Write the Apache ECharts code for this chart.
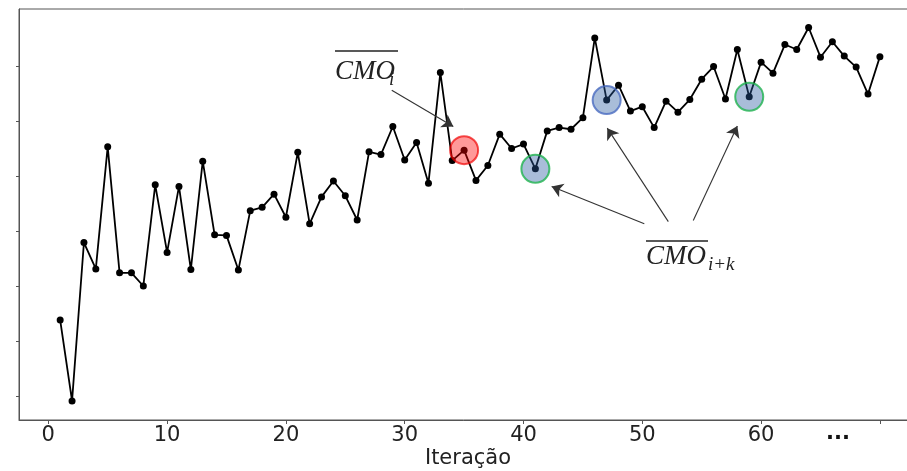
<!DOCTYPE html>
<html>
<head>
    <meta charset="utf-8">
    <title>CMO por iteração</title>
    <script src="https://cdn.jsdelivr.net/npm/echarts@6/dist/echarts.min.js"></script>
</head>
<body style="margin:0;background:#fff;">
<div id="main" style="width:907px;height:471px;"></div>

<script type="text/javascript">
    // iterações 1..70
    var iteracoes = [];
    for (var n = 1; n <= 70; n++) iteracoes.push(n);

    // valores (unidade arbitrária, sem rótulos no eixo y)
    var cmo = [1.38, -0.09, 2.79, 2.31, 4.53, 2.24, 2.24, 2.00, 3.84, 2.61,
               3.81, 2.30, 4.27, 2.93, 2.92, 2.29, 3.37, 3.43, 3.67, 3.25,
               4.43, 3.13, 3.62, 3.91, 3.64, 3.20, 4.44, 4.39, 4.90, 4.29,
               4.61, 3.87, 5.88, 4.28, 4.47, 3.92, 4.19, 4.76, 4.50, 4.58,
               4.13, 4.82, 4.88, 4.85, 5.06, 6.51, 5.38, 5.65, 5.18, 5.26,
               4.88, 5.36, 5.16, 5.39, 5.76, 5.99, 5.40, 6.30, 5.44, 6.07,
               5.87, 6.39, 6.30, 6.70, 6.16, 6.44, 6.18, 5.98, 5.49, 6.17];

    var xTicks = [0, 10, 20, 30, 40, 50, 60, 70];
    var xLabels = [0, 10, 20, 30, 40, 50, 60];
    var yTicks = [0, 1, 2, 3, 4, 5, 6];

    // ponto atual e pontos futuros destacados
    var atual = 35;
    var futuros = [41, 47, 59];
    var bordaFuturos = ['#1fb34f', '#4a6cc0', '#1fb34f'];

    // setas: [origem, destino] em coordenadas dos dados
    var setas = [
        [[28.91, 5.56], [34.09, 4.90]],
        [[50.17, 3.13], [42.37, 3.81]],
        [[52.19, 3.17], [47.05, 4.87]],
        [[54.29, 3.19], [58.00, 4.91]]
    ];

    var linha = iteracoes.map(function (it, i) { return [it, cmo[i]]; });

    var destaques = [{
        value: [atual, cmo[atual - 1]],
        itemStyle: { color: 'rgba(255,0,0,0.5)', borderColor: 'rgba(240,0,0,0.85)', borderWidth: 2 }
    }];
    futuros.forEach(function (it, k) {
        destaques.push({
            value: [it, cmo[it - 1]],
            itemStyle: { color: 'rgba(40,90,160,0.5)', borderColor: bordaFuturos[k], borderWidth: 2 }
        });
    });

    var myChart = echarts.init(document.getElementById('main'));
    var option = {
        animation: false,
        backgroundColor: '#fff',
        grid: {
            left: 19, top: 9, width: 920, bottom: 51,
            outerBoundsMode: 'none',
            containLabel: false,
            show: true, borderColor: '#555', borderWidth: 1
        },
        xAxis: {
            type: 'value',
            min: -2.466,
            max: (939 - 48.3) / 11.88,
            name: 'Iteração',
            nameLocation: 'start',
            nameGap: 0,
            nameTextStyle: {
                fontFamily: 'DejaVu Sans', fontSize: 21, color: '#222',
                align: 'center', verticalAlign: 'top', padding: [28, 0, 0, 900]
            },
            axisLine: { show: true, onZero: false, lineStyle: { color: '#555', width: 1 } },
            axisTick: { show: true, customValues: xTicks, length: 4, lineStyle: { color: '#555' } },
            axisLabel: { customValues: xLabels, margin: 5, fontFamily: 'DejaVu Sans', fontSize: 21, color: '#222' },
            splitLine: { show: false }
        },
        yAxis: {
            type: 'value',
            min: -0.436,
            max: 7.036,
            axisLine: { show: true, onZero: false, lineStyle: { color: '#555', width: 1 } },
            axisTick: { show: true, customValues: yTicks, length: 3, lineStyle: { color: '#555' } },
            axisLabel: { show: false },
            splitLine: { show: false }
        },
        series: [
            {
                type: 'line',
                data: linha,
                symbol: 'circle',
                symbolSize: 7,
                itemStyle: { color: '#000' },
                lineStyle: { color: '#000', width: 1.8 },
                z: 2,
                markLine: {
                    silent: true,
                    symbol: ['none', 'arrow'],
                    symbolSize: 11,
                    label: { show: false },
                    lineStyle: { color: '#333', width: 1.1, type: 'solid' },
                    data: setas.map(function (s) {
                        return [{ coord: s[0] }, { coord: s[1] }];
                    })
                }
            },
            {
                type: 'scatter',
                data: destaques,
                symbolSize: 28,
                z: 3,
                silent: true
            }
        ],
        graphic: [
            // CMO_i
            { type: 'line', shape: { x1: 335, y1: 51, x2: 398, y2: 51 }, style: { stroke: '#222', lineWidth: 1.5 } },
            { type: 'text', style: { x: 335, y: 72, text: 'CMO', font: 'italic 27px "Liberation Serif"', fill: '#222', verticalAlign: 'middle' } },
            { type: 'text', style: { x: 389, y: 80, text: 'i', font: 'italic 19px "Liberation Serif"', fill: '#222', verticalAlign: 'middle' } },
            // CMO_{i+k}
            { type: 'line', shape: { x1: 646, y1: 241, x2: 708, y2: 241 }, style: { stroke: '#222', lineWidth: 1.5 } },
            { type: 'text', style: { x: 646, y: 257, text: 'CMO', font: 'italic 27px "Liberation Serif"', fill: '#222', verticalAlign: 'middle' } },
            { type: 'text', style: { x: 708, y: 265, text: 'i+k', font: 'italic 19px "Liberation Serif"', fill: '#222', verticalAlign: 'middle' } },
            // reticências no lugar do rótulo 70
            { type: 'text', style: { x: 838, y: 434, text: '...', font: 'bold 21px "DejaVu Sans"', fill: '#111', align: 'center', verticalAlign: 'middle' } },
            // nome do eixo x, centrado como no original
            { type: 'text', style: { x: 468, y: 459, text: 'Iteração', font: '21px "DejaVu Sans"', fill: '#222', align: 'center', verticalAlign: 'middle' } }
        ]
    };

    // o nome do eixo fica no graphic (centro visível, não no centro do grid alargado)
    option.xAxis.name = '';

    myChart.setOption(option);
</script>

</body>
</html>
